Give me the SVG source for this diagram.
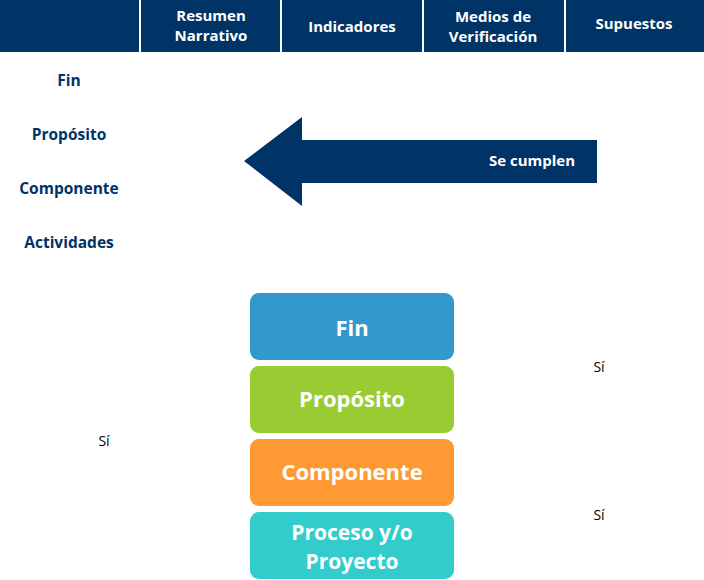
<svg xmlns="http://www.w3.org/2000/svg" width="704" height="580" viewBox="0 0 704 580">
<style>
.h{font-family:"Open Sans","Noto Sans",sans-serif;font-weight:bold;font-size:15px;fill:#fff;text-anchor:middle}
.l{font-family:"Open Sans","Noto Sans",sans-serif;font-weight:bold;font-size:15.5px;fill:#003366;text-anchor:middle}
.b{font-family:"Open Sans","Noto Sans",sans-serif;font-weight:bold;font-size:22px;fill:#fff;text-anchor:middle}
.b2{font-family:"Open Sans","Noto Sans",sans-serif;font-weight:bold;font-size:21px;fill:#fff;text-anchor:middle}
.s{font-family:"Open Sans","Noto Sans",sans-serif;font-size:14px;fill:#000;text-anchor:middle}
</style>
<g id="header">
<rect x="0" y="0" width="704" height="52" fill="#003366"/>
<g stroke="#fff" stroke-width="2">
<line x1="140" y1="0" x2="140" y2="52"/>
<line x1="281" y1="0" x2="281" y2="52"/>
<line x1="423" y1="0" x2="423" y2="52"/>
<line x1="565" y1="0" x2="565" y2="52"/>
</g>
<text class="h" x="211" y="21">Resumen</text>
<text class="h" x="211" y="41">Narrativo</text>
<text class="h" x="352" y="32">Indicadores</text>
<text class="h" x="493" y="22">Medios de</text>
<text class="h" x="493" y="42">Verificación</text>
<text class="h" x="634" y="29">Supuestos</text>
</g>
<g id="levels">
<text class="l" x="69" y="86">Fin</text>
<text class="l" x="69" y="140">Propósito</text>
<text class="l" x="69" y="194">Componente</text>
<text class="l" x="69" y="248">Actividades</text>
</g>
<g id="connectors">
<polygon points="244,161 302,117 302,140 597,140 597,183 302,183 302,206" fill="#003366"/>
<text class="h" x="532" y="166">Se cumplen</text>
</g>
<g id="fin"><rect x="250" y="293" width="204" height="67" rx="9" fill="#3399CC"/><text class="b" x="352" y="336">Fin</text></g>
<g id="proposito"><rect x="250" y="366" width="204" height="67" rx="9" fill="#99CC33"/><text class="b" x="352" y="407">Propósito</text></g>
<g id="componente"><rect x="250" y="439" width="204" height="67" rx="9" fill="#FF9933"/><text class="b" x="352" y="480">Componente</text></g>
<g id="proceso"><rect x="250" y="512" width="204" height="67" rx="9" fill="#33CCCC"/><text class="b2" x="352" y="540">Proceso y/o</text><text class="b2" x="352" y="569">Proyecto</text></g>
<g id="si">
<text class="s" x="104" y="446">Sí</text>
<text class="s" x="599" y="372">Sí</text>
<text class="s" x="599" y="520">Sí</text>
</g>
</svg>
